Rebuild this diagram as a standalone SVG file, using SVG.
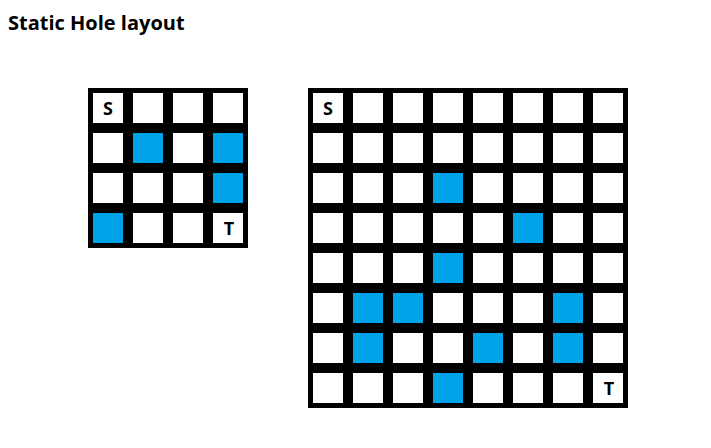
<svg xmlns="http://www.w3.org/2000/svg" width="711" height="448" viewBox="0 0 711 448">
<style>
.t{font-family:"Open Sans","Noto Sans","DejaVu Sans",sans-serif;font-weight:bold;fill:#000}
.c{fill:#fff}
.h{fill:#00A2E8}
.g{fill:#000}
.l{font-family:"Open Sans","Noto Sans","DejaVu Sans",sans-serif;font-weight:bold;font-size:18px;text-anchor:middle;fill:#000}
</style>
<rect width="711" height="448" fill="#fff"/>
<text class="t" x="8" y="30" font-size="20">Static Hole layout</text>
<g id="small-grid">
<rect class="g" x="88" y="88" width="160" height="160"/>
<rect class="c" x="93" y="93" width="30" height="30"/><rect class="c" x="133" y="93" width="30" height="30"/><rect class="c" x="173" y="93" width="30" height="30"/><rect class="c" x="213" y="93" width="30" height="30"/>
<rect class="c" x="93" y="133" width="30" height="30"/><rect class="h" x="133" y="133" width="30" height="30"/><rect class="c" x="173" y="133" width="30" height="30"/><rect class="h" x="213" y="133" width="30" height="30"/>
<rect class="c" x="93" y="173" width="30" height="30"/><rect class="c" x="133" y="173" width="30" height="30"/><rect class="c" x="173" y="173" width="30" height="30"/><rect class="h" x="213" y="173" width="30" height="30"/>
<rect class="h" x="93" y="213" width="30" height="30"/><rect class="c" x="133" y="213" width="30" height="30"/><rect class="c" x="173" y="213" width="30" height="30"/><rect class="c" x="213" y="213" width="30" height="30"/>
<text class="l" x="108" y="115">S</text>
<text class="l" x="229" y="235">T</text>
</g>
<g id="large-grid">
<rect class="g" x="308" y="88" width="320" height="320"/>
<g id="row0"><rect class="c" x="313" y="93" width="30" height="30"/><rect class="c" x="353" y="93" width="30" height="30"/><rect class="c" x="393" y="93" width="30" height="30"/><rect class="c" x="433" y="93" width="30" height="30"/><rect class="c" x="473" y="93" width="30" height="30"/><rect class="c" x="513" y="93" width="30" height="30"/><rect class="c" x="553" y="93" width="30" height="30"/><rect class="c" x="593" y="93" width="30" height="30"/></g>
<g id="row1"><rect class="c" x="313" y="133" width="30" height="30"/><rect class="c" x="353" y="133" width="30" height="30"/><rect class="c" x="393" y="133" width="30" height="30"/><rect class="c" x="433" y="133" width="30" height="30"/><rect class="c" x="473" y="133" width="30" height="30"/><rect class="c" x="513" y="133" width="30" height="30"/><rect class="c" x="553" y="133" width="30" height="30"/><rect class="c" x="593" y="133" width="30" height="30"/></g>
<g id="row2"><rect class="c" x="313" y="173" width="30" height="30"/><rect class="c" x="353" y="173" width="30" height="30"/><rect class="c" x="393" y="173" width="30" height="30"/><rect class="h" x="433" y="173" width="30" height="30"/><rect class="c" x="473" y="173" width="30" height="30"/><rect class="c" x="513" y="173" width="30" height="30"/><rect class="c" x="553" y="173" width="30" height="30"/><rect class="c" x="593" y="173" width="30" height="30"/></g>
<g id="row3"><rect class="c" x="313" y="213" width="30" height="30"/><rect class="c" x="353" y="213" width="30" height="30"/><rect class="c" x="393" y="213" width="30" height="30"/><rect class="c" x="433" y="213" width="30" height="30"/><rect class="c" x="473" y="213" width="30" height="30"/><rect class="h" x="513" y="213" width="30" height="30"/><rect class="c" x="553" y="213" width="30" height="30"/><rect class="c" x="593" y="213" width="30" height="30"/></g>
<g id="row4"><rect class="c" x="313" y="253" width="30" height="30"/><rect class="c" x="353" y="253" width="30" height="30"/><rect class="c" x="393" y="253" width="30" height="30"/><rect class="h" x="433" y="253" width="30" height="30"/><rect class="c" x="473" y="253" width="30" height="30"/><rect class="c" x="513" y="253" width="30" height="30"/><rect class="c" x="553" y="253" width="30" height="30"/><rect class="c" x="593" y="253" width="30" height="30"/></g>
<g id="row5"><rect class="c" x="313" y="293" width="30" height="30"/><rect class="h" x="353" y="293" width="30" height="30"/><rect class="h" x="393" y="293" width="30" height="30"/><rect class="c" x="433" y="293" width="30" height="30"/><rect class="c" x="473" y="293" width="30" height="30"/><rect class="c" x="513" y="293" width="30" height="30"/><rect class="h" x="553" y="293" width="30" height="30"/><rect class="c" x="593" y="293" width="30" height="30"/></g>
<g id="row6"><rect class="c" x="313" y="333" width="30" height="30"/><rect class="h" x="353" y="333" width="30" height="30"/><rect class="c" x="393" y="333" width="30" height="30"/><rect class="c" x="433" y="333" width="30" height="30"/><rect class="h" x="473" y="333" width="30" height="30"/><rect class="c" x="513" y="333" width="30" height="30"/><rect class="h" x="553" y="333" width="30" height="30"/><rect class="c" x="593" y="333" width="30" height="30"/></g>
<g id="row7"><rect class="c" x="313" y="373" width="30" height="30"/><rect class="c" x="353" y="373" width="30" height="30"/><rect class="c" x="393" y="373" width="30" height="30"/><rect class="h" x="433" y="373" width="30" height="30"/><rect class="c" x="473" y="373" width="30" height="30"/><rect class="c" x="513" y="373" width="30" height="30"/><rect class="c" x="553" y="373" width="30" height="30"/><rect class="c" x="593" y="373" width="30" height="30"/></g>
<text class="l" x="328" y="115">S</text>
<text class="l" x="609" y="395">T</text>
</g>
</svg>
